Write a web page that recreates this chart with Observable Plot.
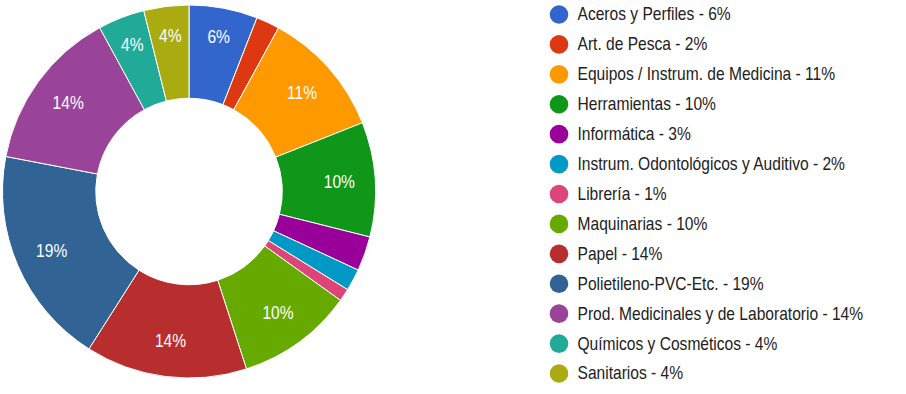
<!DOCTYPE html>
<html>
<head>
<meta charset="utf-8">
<script src="https://cdn.jsdelivr.net/npm/d3@7"></script>
<script src="https://cdn.jsdelivr.net/npm/@observablehq/plot@0.6"></script>
<style>
  body { margin: 0; background: #fff; }
  #chart { position: relative; width: 906px; height: 394px; overflow: hidden; background: #fff; }
  #donut { position: absolute; left: 0; top: 0; }
  #legend { position: absolute; left: 540px; top: 0; }
</style>
</head>
<body>
<div id="chart"><div id="donut"></div><div id="legend"></div></div>
<script>
const categories = [
  "Aceros y Perfiles",
  "Art. de Pesca",
  "Equipos / Instrum. de Medicina",
  "Herramientas",
  "Informática",
  "Instrum. Odontológicos y Auditivo",
  "Librería",
  "Maquinarias",
  "Papel",
  "Polietileno-PVC-Etc.",
  "Prod. Medicinales y de Laboratorio",
  "Químicos y Cosméticos",
  "Sanitarios"
];
const values = [5.94, 2.03, 11.03, 9.93, 3.0, 1.9, 1.1, 10.1, 14.0, 19.0, 14.05, 4.05, 3.9];
const colors = ["#3366cc", "#dc3912", "#ff9900", "#109618", "#990099", "#0099c6", "#dd4477", "#66aa00", "#b82e2e", "#316395", "#994499", "#22aa99", "#aaaa11"];

const FONT = "'Liberation Sans Narrow', 'Arial Narrow', 'Liberation Sans', Arial, sans-serif";
const FONT_SIZE = 18.5;
const NARROW = 0.842;

const total = d3.sum(values);
const data = categories.map((c, i) => ({category: c, value: values[i], pct: Math.round(values[i] / total * 100)}));
const arcs = d3.pie().sort(null).value(d => d.value)(data);
const labels = arcs
  .filter(a => a.data.value >= 3.5)
  .map(a => {
    const mid = (a.startAngle + a.endAngle) / 2;
    const r = (a.endAngle - a.startAngle) < 0.45 ? 0.843 : 0.805;
    return {x: r * Math.sin(mid), y: r * Math.cos(mid), text: a.data.pct + "%"};
  });

function donutMark(index, scales) {
  const cx = scales.x(0), cy = scales.y(0);
  const R = Math.abs(scales.x(1) - scales.x(0));
  const arc = d3.arc().innerRadius(R * 0.5).outerRadius(R);
  const g = d3.create("svg:g").attr("transform", `translate(${cx},${cy})`);
  g.selectAll("path").data(arcs).join("path")
    .attr("d", arc)
    .attr("fill", d => scales.color(d.data.category))
    .attr("stroke", "#fff")
    .attr("stroke-width", 1);
  return g.node();
}

const colorScale = {type: "ordinal", domain: categories, range: colors};

const donut = Plot.plot({
  width: 380,
  height: 394,
  margin: 0,
  x: {domain: [-1, 1], range: [2.5, 375.5], axis: null},
  y: {domain: [-1, 1], range: [378, 5], axis: null},
  color: colorScale,
  style: {fontFamily: FONT, background: "transparent"},
  marks: [
    Plot.dot(data, {x: 0, y: 0, fill: "category", r: 0}),
    donutMark,
    Plot.text(labels, {x: "x", y: "y", text: "text", fill: "white", fontSize: FONT_SIZE})
  ]
});
document.getElementById("donut").appendChild(donut);

const legend = Plot.plot({
  width: 366,
  height: 394,
  margin: 0,
  y: {type: "point", domain: categories, range: [14, 373], padding: 0, round: false, axis: null},
  color: colorScale,
  style: {fontFamily: FONT, background: "transparent"},
  marks: [
    Plot.dot(data, {frameAnchor: "left", dx: 18.5, y: "category", fill: "category", r: 9.3}),
    Plot.text(data, {frameAnchor: "left", dx: 37, y: "category", text: d => `${d.category} - ${d.pct}%`, textAnchor: "start", fill: "#222", fontSize: FONT_SIZE})
  ]
});
document.getElementById("legend").appendChild(legend);

// condense glyphs horizontally (about each text's anchor) to mimic the narrow typeface of the original
document.querySelectorAll("#chart svg text").forEach(t => {
  const wrap = document.createElementNS("http://www.w3.org/2000/svg", "g");
  t.parentNode.insertBefore(wrap, t);
  wrap.appendChild(t);
  const b = wrap.getBBox();
  const anchor = getComputedStyle(t).textAnchor;
  const ax = anchor === "middle" ? b.x + b.width / 2 : anchor === "end" ? b.x + b.width : b.x;
  wrap.setAttribute("transform", `translate(${ax},0) scale(${NARROW},1) translate(${-ax},0)`);
});
</script>
</body>
</html>
